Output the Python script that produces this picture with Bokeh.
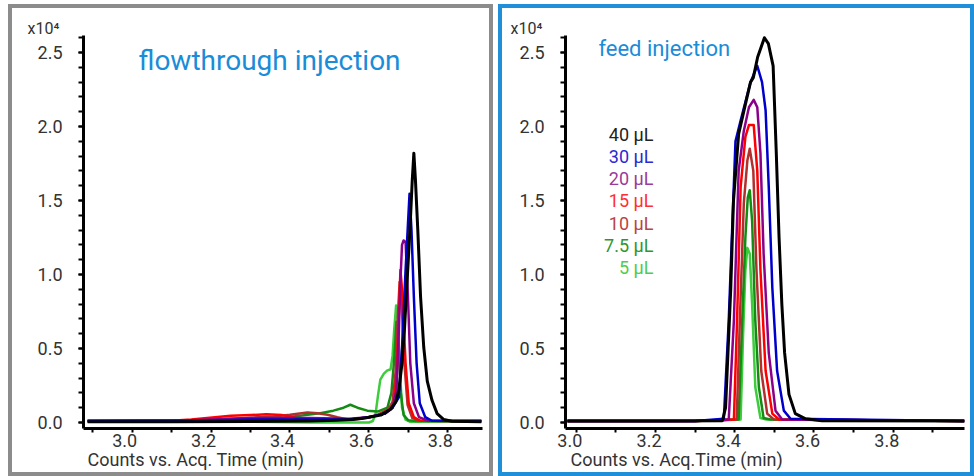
import math
from bokeh.plotting import figure
from bokeh.layouts import row
from bokeh.models import (Range1d, LinearAxis, FixedTicker, PrintfTickFormatter,
                          CustomJSTickFormatter, Label, Title)
from bokeh.embed import file_html
from bokeh.resources import INLINE
from bokeh.core.properties import value

# ---------------- data ----------------
volumes = ["40 µL", "30 µL", "20 µL", "15 µL", "10 µL", "7.5 µL", "5 µL"]
line_colors = ["#000000", "#0000cc", "#8b008b", "#ff0000", "#b03030", "#148c14", "#3ccc3c"]
text_colors = ["#222222", "#2a2ad0", "#9a3a9a", "#ff3030", "#b84444", "#2f962f", "#4fcc4f"]
y_ticks = [0.0, 0.5, 1.0, 1.5, 2.0, 2.5]
x_ticks = [3.0, 3.2, 3.4, 3.6, 3.8]

# flowthrough injection (time in min, counts in x10^4)
ft_t_40 = [2.887, 3.10, 3.30, 3.45, 3.52, 3.56, 3.59, 3.63, 3.655, 3.668, 3.676, 3.684, 3.690, 3.697, 3.704, 3.710, 3.714, 3.718, 3.724, 3.731, 3.739, 3.748, 3.760, 3.773, 3.790, 3.810, 3.885]
ft_v_40 = [0.005, 0.005, 0.006, 0.01, 0.015, 0.02, 0.03, 0.05, 0.09, 0.14, 0.22, 0.40, 0.62, 0.96, 1.30, 1.64, 1.82, 1.64, 1.30, 0.85, 0.51, 0.28, 0.15, 0.06, 0.02, 0.008, 0.005]
ft_t_30 = [2.887, 3.15, 3.30, 3.45, 3.55, 3.60, 3.64, 3.66, 3.676, 3.684, 3.693, 3.699, 3.703, 3.708, 3.714, 3.721, 3.729, 3.743, 3.76, 3.885]
ft_v_30 = [0.01, 0.012, 0.02, 0.02, 0.02, 0.035, 0.06, 0.10, 0.17, 0.51, 1.03, 1.34, 1.545, 1.30, 0.85, 0.40, 0.13, 0.036, 0.012, 0.01]
ft_t_20 = [2.887, 3.15, 3.30, 3.45, 3.55, 3.60, 3.64, 3.66, 3.670, 3.676, 3.680, 3.684, 3.688, 3.693, 3.699, 3.705, 3.714, 3.727, 3.75, 3.885]
ft_v_20 = [0.012, 0.015, 0.03, 0.03, 0.025, 0.035, 0.06, 0.10, 0.22, 0.62, 0.96, 1.20, 1.23, 1.22, 0.85, 0.40, 0.13, 0.036, 0.012, 0.01]
ft_t_15 = [2.887, 3.10, 3.15, 3.19, 3.25, 3.30, 3.34, 3.38, 3.40, 3.43, 3.47, 3.55, 3.60, 3.64, 3.66, 3.666, 3.672, 3.676, 3.680, 3.684, 3.687, 3.693, 3.701, 3.714, 3.73, 3.885]
ft_v_15 = [0.01, 0.012, 0.02, 0.03, 0.045, 0.05, 0.055, 0.05, 0.04, 0.02, 0.015, 0.02, 0.035, 0.06, 0.10, 0.17, 0.40, 0.74, 1.03, 0.90, 0.74, 0.40, 0.13, 0.036, 0.012, 0.01]
ft_t_10 = [2.887, 3.15, 3.25, 3.32, 3.36, 3.40, 3.444, 3.47, 3.495, 3.52, 3.546, 3.58, 3.62, 3.65, 3.66, 3.668, 3.674, 3.678, 3.683, 3.690, 3.698, 3.71, 3.73, 3.885]
ft_v_10 = [0.01, 0.015, 0.025, 0.035, 0.04, 0.052, 0.068, 0.062, 0.052, 0.035, 0.02, 0.025, 0.05, 0.09, 0.14, 0.35, 0.75, 0.95, 0.80, 0.40, 0.12, 0.03, 0.012, 0.01]
ft_t_75 = [2.887, 3.30, 3.358, 3.409, 3.47, 3.51, 3.536, 3.553, 3.571, 3.596, 3.622, 3.647, 3.657, 3.664, 3.670, 3.675, 3.681, 3.688, 3.70, 3.72, 3.885]
ft_v_75 = [0.01, 0.012, 0.02, 0.04, 0.06, 0.08, 0.10, 0.12, 0.10, 0.08, 0.074, 0.10, 0.20, 0.42, 0.68, 0.55, 0.20, 0.05, 0.015, 0.01, 0.01]
ft_t_5 = [2.887, 3.30, 3.45, 3.60, 3.610, 3.617, 3.623, 3.629, 3.638, 3.646, 3.655, 3.660, 3.664, 3.669, 3.673, 3.678, 3.684, 3.693, 3.705, 3.885]
ft_v_5 = [0.008, 0.005, 0.0, 0.0, 0.01, 0.06, 0.18, 0.29, 0.33, 0.35, 0.36, 0.45, 0.62, 0.79, 0.70, 0.38, 0.10, 0.02, 0.005, 0.005]

# feed injection
fd_t_40 = [2.978, 3.2, 3.369, 3.377, 3.39, 3.397, 3.41, 3.427, 3.44, 3.447, 3.458, 3.475, 3.485, 3.497, 3.505, 3.512, 3.519, 3.526, 3.537, 3.553, 3.579, 3.62, 3.98]
fd_v_40 = [0.01, 0.01, 0.012, 0.1, 0.9, 1.5, 1.95, 2.15, 2.30, 2.33, 2.47, 2.60, 2.56, 2.41, 1.82, 1.25, 0.80, 0.47, 0.19, 0.06, 0.025, 0.012, 0.01]
fd_t_30 = [2.978, 3.3, 3.3726, 3.385, 3.402, 3.415, 3.44, 3.457, 3.469, 3.478, 3.486, 3.495, 3.507, 3.524, 3.541, 3.98]
fd_v_30 = [0.01, 0.01, 0.025, 0.69, 1.90, 2.04, 2.30, 2.41, 2.30, 2.11, 1.59, 0.91, 0.35, 0.08, 0.025, 0.01]
fd_t_20 = [2.978, 3.3, 3.385, 3.398, 3.41, 3.423, 3.436, 3.448, 3.457, 3.465, 3.473, 3.486, 3.503, 3.52, 3.98]
fd_v_20 = [0.01, 0.01, 0.02, 0.69, 1.70, 1.97, 2.13, 2.18, 2.13, 1.82, 1.14, 0.47, 0.08, 0.02, 0.01]
fd_t_15 = [2.978, 3.3, 3.398, 3.406, 3.415, 3.427, 3.436, 3.448, 3.457, 3.465, 3.478, 3.495, 3.512, 3.98]
fd_v_15 = [0.01, 0.01, 0.02, 0.69, 1.59, 1.93, 2.01, 2.01, 1.70, 1.03, 0.35, 0.06, 0.02, 0.01]
fd_t_10 = [2.978, 3.3, 3.405, 3.413, 3.423, 3.432, 3.438, 3.447, 3.455, 3.467, 3.482, 3.499, 3.98]
fd_v_10 = [0.01, 0.01, 0.02, 0.69, 1.48, 1.77, 1.85, 1.70, 1.03, 0.35, 0.06, 0.02, 0.01]
fd_t_75 = [2.978, 3.3, 3.41, 3.419, 3.427, 3.433, 3.438, 3.444, 3.452, 3.461, 3.473, 3.49, 3.98]
fd_v_75 = [0.01, 0.01, 0.02, 0.69, 1.25, 1.52, 1.57, 1.36, 0.69, 0.24, 0.03, 0.02, 0.01]
fd_t_5 = [2.978, 3.3, 3.415, 3.421, 3.427, 3.432, 3.438, 3.444, 3.452, 3.465, 3.48, 3.98]
fd_v_5 = [0.01, 0.01, 0.02, 0.58, 1.03, 1.18, 1.14, 0.80, 0.24, 0.03, 0.02, 0.01]

ft_series = [(ft_t_40, ft_v_40), (ft_t_30, ft_v_30), (ft_t_20, ft_v_20), (ft_t_15, ft_v_15),
             (ft_t_10, ft_v_10), (ft_t_75, ft_v_75), (ft_t_5, ft_v_5)]
fd_series = [(fd_t_40, fd_v_40), (fd_t_30, fd_v_30), (fd_t_20, fd_v_20), (fd_t_15, fd_v_15),
             (fd_t_10, fd_v_10), (fd_t_75, fd_v_75), (fd_t_5, fd_v_5)]

FONT = "Roboto"
TEXT_COL = "#333333"
TITLE_COL = "#1a8cd8"
Y0, Y1 = -0.0405, 2.615


def make_panel(series, x0, x1, lbl_shift, width, min_left, min_right, border,
               margin, title, title_x, title_y, title_size, mult_offset,
               axis_title, axis_title_offset, legend_x=None):
    p = figure(width=width, height=464, x_range=Range1d(x0, x1), y_range=Range1d(Y0, Y1),
               output_backend="svg", toolbar_location=None, x_axis_location=None,
               y_axis_location="left", min_border_left=min_left, min_border_right=min_right,
               min_border_top=27, min_border_bottom=44)
    p.outline_line_color = None
    p.grid.visible = False
    p.background_fill_color = "white"
    p.border_fill_color = "white"
    p.styles = {"outline": f"4px solid {border}", "outline-offset": "0px"}
    p.margin = margin

    # multiplier "x10^4" at the top-left of the y axis
    p.title.text = "x10⁴"
    p.title.align = "left"
    p.title.offset = mult_offset
    p.title.standoff = -5
    p.title.text_font = FONT
    p.title.text_font_size = "16px"
    p.title.text_font_style = "normal"
    p.title.text_color = TEXT_COL

    # y axis
    ya = p.yaxis[0]
    ya.ticker = FixedTicker(ticks=y_ticks, minor_ticks=[i / 10 for i in range(0, 27)])
    ya.formatter = PrintfTickFormatter(format="%.1f")
    ya.axis_line_width = 3
    ya.axis_line_color = "black"
    ya.major_tick_out = 5
    ya.major_tick_in = 0
    ya.minor_tick_out = 5
    ya.minor_tick_in = 0
    ya.major_tick_line_width = 2
    ya.minor_tick_line_width = 2
    ya.major_label_standoff = 16
    ya.major_label_text_font = FONT
    ya.major_label_text_font_size = "18px"
    ya.major_label_text_color = TEXT_COL

    # x axis: ticks every 0.1
    tk = [i / 10 for i in range(math.ceil(x0 * 10), math.floor(x1 * 10) + 1)]
    xa = LinearAxis(ticker=FixedTicker(ticks=tk, minor_ticks=[]),
                    formatter=CustomJSTickFormatter(code="return ''"))
    xa.axis_line_width = 3
    xa.axis_line_color = "black"
    xa.major_tick_out = 4
    xa.major_tick_in = 0
    xa.major_tick_line_width = 2
    xa.major_label_standoff = 0
    xa.major_label_text_font_size = "0px"
    p.add_layout(xa, "below")

    # x labels (drawn slightly left of their ticks, as in the original)
    p.extra_x_ranges = {"lbl": Range1d(x0 + lbl_shift, x1 + lbl_shift)}
    xl = LinearAxis(x_range_name="lbl", ticker=FixedTicker(ticks=x_ticks, minor_ticks=[]),
                    formatter=PrintfTickFormatter(format="%.1f"))
    xl.axis_line_color = None
    xl.major_tick_line_color = None
    xl.minor_tick_line_color = None
    xl.major_tick_out = 0
    xl.major_tick_in = 0
    xl.major_label_standoff = 1
    xl.major_label_text_font = FONT
    xl.major_label_text_font_size = "18px"
    xl.major_label_text_color = TEXT_COL
    p.add_layout(xl, "below")

    # x axis title, left-aligned under the axis
    xt = Title(text=axis_title, align="left")
    xt.offset = axis_title_offset
    xt.standoff = -5
    xt.text_font = FONT
    xt.text_font_size = "18px"
    xt.text_font_style = "normal"
    xt.text_color = TEXT_COL
    p.add_layout(xt, "below")

    # lines: smallest volume first, 40 µL on top
    for i in [6, 5, 4, 3, 2, 1, 0]:
        t, v = series[i]
        p.line(t, v, line_color=line_colors[i], line_width=3 if i == 0 else 2.5,
               line_join="round")

    p.add_layout(Label(x=title_x, y=title_y, text=title, text_font=FONT,
                       text_font_size=title_size, text_color=TITLE_COL,
                       text_baseline="middle", text_align="left"))

    if legend_x is not None:
        ly = [1.946 - 0.1497 * k for k in range(len(volumes))]
        p.text(x=[legend_x] * len(volumes), y=ly, text=volumes, text_color=text_colors,
               text_align="right", text_baseline="middle",
               text_font=value(FONT), text_font_size=value("18px"))
    return p


p1 = make_panel(ft_series, 2.8766, 3.888, 0.019, 477, 71, 7, "#8c8c8c", (8, 0, 0, 12),
                "flowthrough injection", 3.016, 2.446, "28px", -56,
                "Counts vs. Acq. Time (min)", 4)
p2 = make_panel(fd_series, 2.973, 3.98, 0.016, 468, 63, 6, "#1e8fd8", (8, 0, 0, 13),
                "feed injection", 3.056, 2.527, "22px", -55,
                "Counts vs. Acq.Time (min)", 5, legend_x=3.195)

layout = row(p1, p2)
open("out.html", "w").write(file_html(layout, INLINE))
